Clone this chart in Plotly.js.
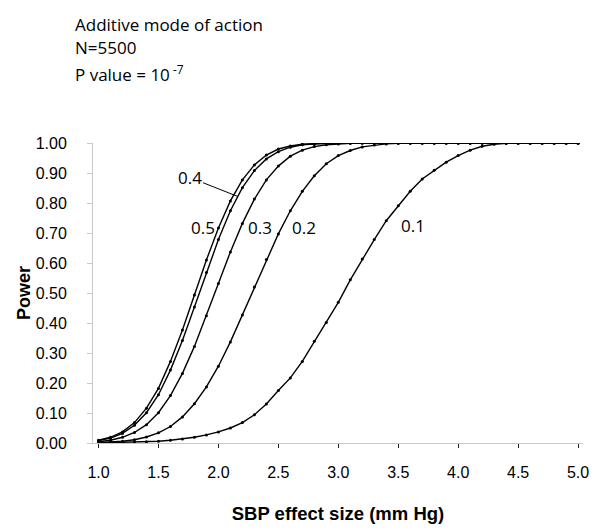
<!DOCTYPE html>
<html>
<head>
<meta charset="utf-8">
<script src="https://cdn.plot.ly/plotly-3.0.1.min.js"></script>
<style>html,body{margin:0;padding:0;background:#fff;}#chart{width:600px;height:531px;}</style>
</head>
<body>
<div id="chart"></div>
<script>
// SBP effect size (mm Hg), 1.0 to 5.0 in steps of 0.1
const effectSize = [1.0,1.1,1.2,1.3,1.4,1.5,1.6,1.7,1.8,1.9,2.0,2.1,2.2,2.3,2.4,2.5,2.6,2.7,2.8,2.9,3.0,
  3.1,3.2,3.3,3.4,3.5,3.6,3.7,3.8,3.9,4.0,4.1,4.2,4.3,4.4,4.5,4.6,4.7,4.8,4.9,5.0];

const power05 = [0.009,0.019,0.037,0.068,0.116,0.182,0.272,0.377,0.493,0.610,0.717,0.807,0.877,0.927,0.960,0.980,0.990,0.996,0.998,0.999,1.000,
  1.000,1.000,1.000,1.000,1.000,1.000,1.000,1.000,1.000,1.000,1.000,1.000,1.000,1.000,1.000,1.000,1.000,1.000,1.000,1.000];
const power04 = [0.008,0.016,0.032,0.059,0.101,0.161,0.243,0.342,0.453,0.568,0.678,0.774,0.851,0.908,0.947,0.971,0.986,0.994,0.997,0.999,1.000,
  1.000,1.000,1.000,1.000,1.000,1.000,1.000,1.000,1.000,1.000,1.000,1.000,1.000,1.000,1.000,1.000,1.000,1.000,1.000,1.000];
const power03 = [0.004,0.009,0.019,0.035,0.061,0.101,0.158,0.232,0.322,0.424,0.532,0.637,0.732,0.813,0.877,0.923,0.956,0.976,0.988,0.994,0.997,
  0.999,1.000,1.000,1.000,1.000,1.000,1.000,1.000,1.000,1.000,1.000,1.000,1.000,1.000,1.000,1.000,1.000,1.000,1.000,1.000];
const power02 = [0.001,0.003,0.006,0.011,0.020,0.034,0.055,0.087,0.131,0.187,0.256,0.337,0.427,0.520,0.612,0.697,0.774,0.839,0.891,0.931,0.958,
  0.975,0.987,0.993,0.997,0.999,1.000,1.000,1.000,1.000,1.000,1.000,1.000,1.000,1.000,1.000,1.000,1.000,1.000,1.000,1.000];
const power01 = [0.000,0.001,0.002,0.003,0.004,0.006,0.009,0.013,0.019,0.027,0.037,0.050,0.068,0.094,0.130,0.175,0.217,0.272,0.339,0.402,0.469,
  0.544,0.613,0.678,0.741,0.791,0.839,0.880,0.909,0.936,0.958,0.976,0.989,0.996,0.999,1.000,1.000,1.000,1.000,1.000,1.000];

const seriesNames = ['0.5','0.4','0.3','0.2','0.1'];
const seriesValues = [power05, power04, power03, power02, power01];

const traces = seriesValues.map((v, i) => ({
  x: effectSize, y: v, type: 'scatter', mode: 'lines+markers', name: seriesNames[i],
  line: {color: '#000', width: 1.4},
  marker: {color: '#000', size: 3},
  hoverinfo: 'skip'
}));

const labFont = {family: 'Open Sans, Noto Sans, sans-serif', size: 17, color: '#000'};
const axFont = {family: 'Liberation Sans, Arial, sans-serif', size: 16, color: '#000'};

const layout = {
  width: 600, height: 531,
  margin: {l: 93, r: 17, t: 143, b: 88},
  paper_bgcolor: '#fff', plot_bgcolor: '#fff',
  showlegend: false,
  xaxis: {
    range: [0.954, 5.041], tickvals: [1.0,1.5,2.0,2.5,3.0,3.5,4.0,4.5,5.0],
    tickformat: '.1f', showgrid: false, zeroline: false,
    showline: true, linecolor: '#c8c8c8', linewidth: 1,
    ticks: 'outside', ticklen: 4, tickcolor: '#222', tickwidth: 1,
    ticklabelstandoff: 11,
    tickfont: axFont,
    title: {text: 'SBP effect size (mm Hg)', font: {family: 'Liberation Sans, Arial, sans-serif', size: 18.5, color: '#000', weight: 'bold'}, standoff: 26}
  },
  yaxis: {
    range: [0, 1], dtick: 0.1, tick0: 0, tickformat: '.2f',
    showgrid: false, zeroline: false,
    showline: true, linecolor: '#c8c8c8', linewidth: 1,
    ticks: 'outside', ticklen: 5, tickcolor: '#c8c8c8', tickwidth: 1,
    ticklabelstandoff: 17,
    tickfont: axFont,
    title: {text: 'Power', font: {family: 'Liberation Sans, Arial, sans-serif', size: 18, color: '#000', weight: 'bold'}, standoff: 0}
  },
  annotations: [
    {xref: 'paper', yref: 'paper', x: -0.0414, y: (443.3-25)/300, xanchor: 'left', yanchor: 'middle', showarrow: false, text: 'Additive mode of action', font: labFont},
    {xref: 'paper', yref: 'paper', x: -0.0414, y: (443.3-48)/300, xanchor: 'left', yanchor: 'middle', showarrow: false, text: 'N=5500', font: labFont},
    {xref: 'paper', yref: 'paper', x: -0.0414, y: (443.3-74)/300, xanchor: 'left', yanchor: 'middle', showarrow: false, text: 'P value = 10<sup> -7</sup>', font: labFont},
    {x: 2.16, y: 0.822, text: '0.4', showarrow: true, arrowhead: 0, arrowwidth: 1, arrowcolor: '#000', ax: -48, ay: -19, font: labFont},
    {x: 1.872, y: 0.718, text: '0.5', showarrow: false, font: labFont},
    {x: 2.347, y: 0.718, text: '0.3', showarrow: false, font: labFont},
    {x: 2.714, y: 0.718, text: '0.2', showarrow: false, font: labFont},
    {x: 3.623, y: 0.724, text: '0.1', showarrow: false, font: labFont}
  ]
};

Plotly.newPlot('chart', traces, layout, {displayModeBar: false, staticPlot: true});
</script>
</body>
</html>
